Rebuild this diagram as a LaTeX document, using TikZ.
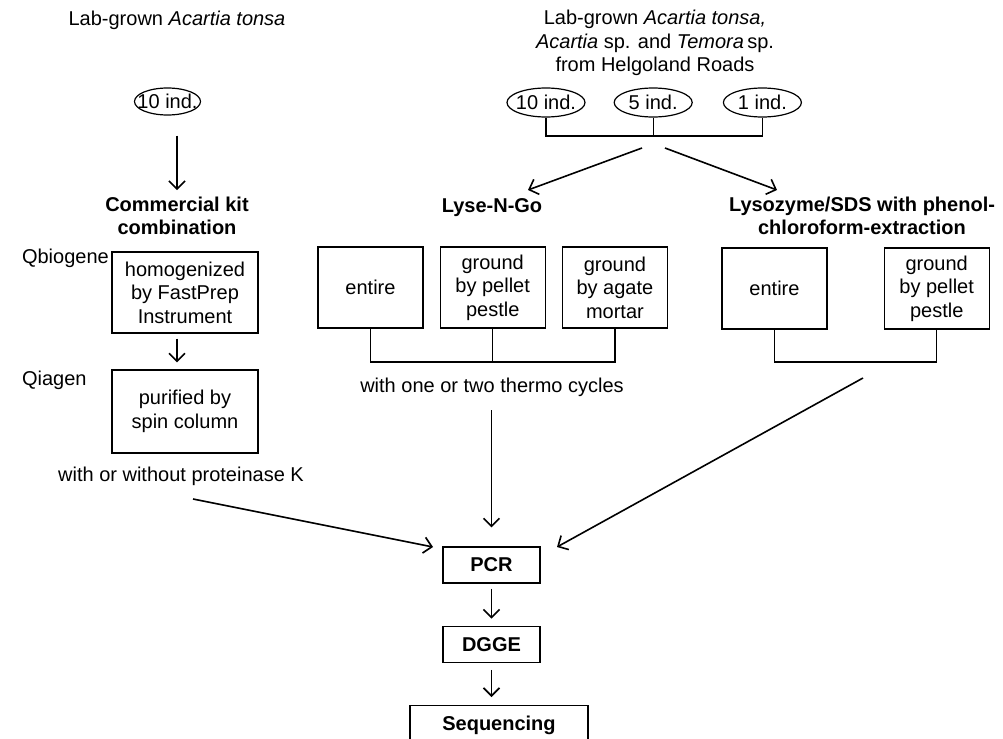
\documentclass[tikz,border=0pt]{standalone}
\usepackage{fontspec}
\setmainfont{Liberation Sans}
\usepackage{tikz}
\usetikzlibrary{shapes,arrows.meta,positioning,calc}

\begin{document}
\begin{tikzpicture}[
    x=0.5pt, y=-0.5pt,
    font=\fontsize{10}{11.75}\selectfont,
    box/.style={rectangle, draw, line width=0.6pt, minimum width=52.5pt, minimum height=40.5pt, align=center, inner sep=0pt},
    widebox/.style={box, minimum width=73pt},
    stepbox/.style={rectangle, draw, line width=0.6pt, minimum width=48.5pt, minimum height=18pt, inner sep=0pt, font=\fontsize{10}{12}\selectfont\bfseries},
    ind/.style={ellipse, draw, line width=0.6pt, minimum width=39pt, minimum height=14.5pt, inner xsep=-4pt, inner ysep=0pt},
    title/.style={align=center, font=\fontsize{10}{11.5}\selectfont\bfseries},
    arrow/.style={-{Straight Barb[length=4pt,width=8pt]}, line width=0.8pt},
    link/.style={line width=0.6pt},
]
\useasboundingbox (0,0) rectangle (1003,739);

% === LEFT: COMMERCIAL KIT ===
\node (src1) at (177,20) {Lab-grown \textit{Acartia tonsa}};
\node[ind, minimum width=33pt, minimum height=13.5pt, inner xsep=-5pt] (n10a) at (167.5,101.5) {10 ind.};
\node[title] (kit) at (177,216) {Commercial kit\\combination};
\node[widebox] (homog) at (185,292.5) {homogenized\\by FastPrep\\Instrument};
\node[widebox, minimum height=41.5pt] (spin) at (185,411.5) {purified by\\spin column};
\node[anchor=west] (qbio) at (15,258) {Qbiogene};
\node[anchor=west] (qiagen) at (15,380) {Qiagen};
\node (protk) at (181,476) {with or without proteinase K};

% === FIELD SAMPLES ===
\node[align=center] (src2) at (655,43) {Lab-grown \textit{Acartia tonsa,}\\\textit{Acartia} sp. and \textit{Temora}\,sp.\\from Helgoland Roads};
\node[ind] (n10) at (546,102.5) {10 ind.};
\node[ind, right=14pt of n10] (n5) {5 ind.};
\node[ind, right=15pt of n5] (n1) {1 ind.};
\coordinate (join) at (653,136);

% === LYSE-N-GO ===
\node[title] (lyse) at (492,208) {Lyse-N-Go};
\node[box] (lentire) at (370.5,287.5) {entire};
\node[box, right=8pt of lentire] (lpellet) {ground\\by pellet\\pestle};
\node[box, right=8pt of lpellet] (lagate) {ground\\by agate\\mortar};
\coordinate (lbar) at (491,362);
\node (thermo) at (492,387) {with one or two thermo cycles};

% === LYSOZYME/SDS ===
\node[title] (lyso) at (862,216) {Lysozyme/SDS with phenol-\\chloroform-extraction};
\node[box] (rentire) at (774.5,288.5) {entire};
\node[box, right=28pt of rentire] (rpellet) {ground\\by pellet\\pestle};
\coordinate (rbar) at (855,362);

% === PCR, DGGE, SEQUENCING ===
\node[stepbox] (pcr) at (491.5,565) {PCR};
\node[stepbox, below=21pt of pcr] (dgge) {DGGE};
\node[stepbox, minimum width=89pt, minimum height=20pt, anchor=north] (seq) at (499,705) {Sequencing};

% free arrow ends
\coordinate (splitl) at (642,148);
\coordinate (splitr) at (665,148);
\coordinate (lyseend) at (528,190);
\coordinate (lysoend) at (777,190);
\coordinate (kout) at (193,499);
\coordinate (kin) at (433,547);
\coordinate (rout) at (863,378);
\coordinate (rin) at (557,547);

% === CONNECTORS ===
\draw[arrow, shorten <=10pt] (kit.north |- n10a.south) -- (kit.north);
\draw[arrow, shorten <=2.5pt, shorten >=3.5pt] (kit.south |- homog.south) -- (kit.south |- spin.north);

\draw[link] (n10) -- (n10 |- join) -- (n1 |- join) -- (n1);
\draw[link] (n5) -- (n5 |- join);
\draw[arrow] (splitl) -- (lyseend);
\draw[arrow] (splitr) -- (lysoend);

\draw[link] (lentire) -- (lentire |- lbar) -- (lagate |- lbar) -- (lagate);
\draw[link] (lpellet) -- (lpellet |- lbar);
\draw[link] (rentire) -- (rentire |- rbar) -- (rpellet |- rbar) -- (rpellet);

\draw[arrow] (kout) -- (kin);
\draw[arrow, shorten <=3.5pt, shorten >=9.5pt] (thermo.south -| pcr.north) -- (pcr.north);
\draw[arrow] (rout) -- (rin);

\draw[arrow, shorten <=2.5pt, shorten >=3.5pt] (pcr) -- (dgge);
\draw[arrow, shorten <=3.5pt, shorten >=4pt] (dgge.south) -- (dgge.south |- seq.north);

\end{tikzpicture}
\end{document}
